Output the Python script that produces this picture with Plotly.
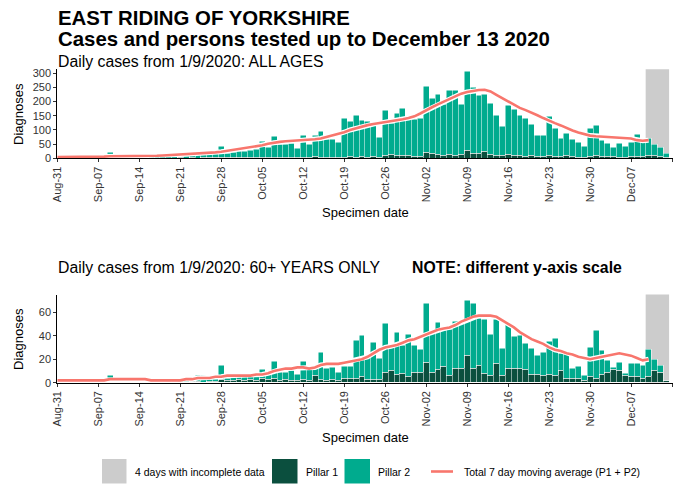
import datetime as dt
import plotly.graph_objects as go

# ---------------- data ----------------
start = dt.date(2020, 8, 31)
dates = [start + dt.timedelta(days=i) for i in range(105)]  # Aug 31 .. Dec 13
incomplete_dates = ["2020-12-10", "2020-12-13"]

all_total = [
    0,
    3, 4, 2, 5, 4, 3, 4,
    6, 20, 5, 7, 6, 8, 7,
    8, 6, 9, 8, 10, 11, 12,
    13, 12, 15, 16, 17, 19,
    43, 17, 20, 23, 26, 28, 31,
    61, 40, 76, 48, 50, 52, 35,
    80, 50, 80, 94, 66, 68, 58,
    141, 132, 150, 135, 130, 118, 73,
    171, 124, 159, 176, 137, 139, 142,
    253, 212, 226, 191, 241, 241, 191,
    306, 250, 224, 226, 194, 150, 112,
    188, 174, 153, 141, 120, 82, 82,
    147, 106, 71, 88, 68, 56, 41,
    106, 115, 65, 53, 38, 53, 41,
    55, 85, 65, 71, 51, 38, 18,
]
all_p1 = [
    0,
    0, 0, 0, 1, 0, 0, 0,
    1, 1, 0, 1, 0, 1, 1,
    1, 0, 1, 1, 1, 1, 2,
    1, 2, 1, 2, 2, 2,
    3, 2, 3, 2, 3, 3, 3,
    4, 3, 4, 3, 3, 4, 3,
    5, 4, 6, 5, 4, 5, 4,
    5, 6, 5, 6, 5, 6, 4,
    12, 14, 12, 10, 9, 8, 7,
    20, 18, 14, 12, 13, 11, 15,
    28, 18, 16, 26, 14, 12, 10,
    14, 12, 10, 8, 9, 7, 6,
    12, 8, 7, 9, 6, 5, 4,
    8, 9, 7, 6, 8, 5, 4,
    6, 8, 7, 12, 10, 8, 3,
]
all_avg = [
    4, 4, 4, 5, 5, 5, 5, 6,
    6, 7, 7, 8, 8, 8, 9,
    9, 9, 9, 10, 11, 12, 13,
    14, 15, 16, 17, 19, 21, 23,
    26, 29, 32, 35, 38, 42, 46,
    51, 55, 58, 60, 61, 62, 63,
    65, 67, 70, 75, 80, 85, 92,
    100, 106, 112, 117, 121, 124, 127,
    130, 134, 138, 142, 148, 158, 170,
    180, 190, 200, 210, 219, 228, 234,
    238, 241, 242, 236, 224, 212, 200,
    188, 178, 170, 162, 152, 142, 132,
    124, 116, 106, 98, 91, 85, 80,
    78, 77, 76, 75, 74, 73, 70,
    64, 62, 64,
]

old_total = [
    0,
    1, 1, 0, 2, 1, 1, 1,
    2, 6, 2, 3, 2, 3, 2,
    2, 1, 2, 1, 2, 1, 2,
    2, 3, 6, 6, 3, 4,
    15, 4, 5, 5, 6, 5, 6,
    11, 8, 18, 9, 9, 10, 7,
    18, 11, 12, 26, 12, 13, 9,
    14, 14, 36, 40, 22, 34, 21,
    50, 31, 43, 32, 41, 32, 28,
    67, 43, 51, 44, 45, 52, 50,
    70, 67, 55, 54, 41, 54, 29,
    50, 39, 40, 33, 29, 23, 26,
    35, 38, 25, 25, 12, 14, 6,
    30, 44, 27, 19, 13, 17, 8,
    16, 16, 15, 28, 20, 15, 2,
]
old_p1 = [
    0,
    0, 0, 0, 0, 0, 0, 0,
    0, 0, 0, 0, 0, 1, 0,
    0, 0, 0, 0, 0, 0, 0,
    0, 1, 1, 0, 1, 1,
    3, 2, 2, 3, 2, 3, 2,
    4, 3, 4, 2, 3, 2, 2,
    3, 2, 6, 3, 2, 3, 2,
    4, 4, 4, 5, 3, 3, 3,
    9, 10, 7, 8, 5, 9, 9,
    17, 9, 11, 14, 6, 12, 12,
    23, 12, 15, 8, 6, 16, 6,
    12, 12, 12, 11, 7, 7, 6,
    7, 6, 10, 4, 4, 4, 2,
    5, 4, 7, 9, 11, 10, 6,
    5, 5, 4, 5, 10, 9, 2,
]
old_avg = [
    2, 2, 2, 2, 2, 2, 2, 2,
    2, 3, 3, 3, 3, 3, 3,
    3, 2, 2, 2, 2, 2, 2,
    3, 3, 4, 4, 4, 5, 5,
    6, 6, 6, 6, 6, 7, 7,
    8, 10, 11, 12, 12, 13, 13,
    12, 13, 15, 16, 16, 16, 17,
    18, 19, 20, 22, 25, 28, 30,
    31, 32, 34, 36, 37, 39, 41,
    43, 45, 46, 47, 49, 52, 54,
    56, 57, 57, 57, 56, 53, 50,
    47, 43, 40, 37, 35, 33, 30,
    28, 27, 25, 24, 22, 21, 20,
    21, 22, 23, 24, 25, 24, 23,
    21, 19, 20,
]

all_p2 = [t - p for t, p in zip(all_total, all_p1)]
old_p2 = [t - p for t, p in zip(old_total, old_p1)]

# ---------------- styling ----------------
W, H = 676, 485
FONT = "Liberation Sans"
C_P1 = "#0b4f3e"
C_P2 = "#00ab8e"
C_AVG = "#f8766d"
C_GREY = "#cccccc"


def px(x):
    return x / W


def py(y):
    return 1 - y / H


fig = go.Figure()


def add_panel(total_p1, total_p2, avg, xa, ya):
    fig.add_trace(go.Bar(x=dates, y=total_p1, marker=dict(color=C_P1, line=dict(color="white", width=0.5)),
                         xaxis=xa, yaxis=ya, showlegend=False, name="Pillar 1"))
    fig.add_trace(go.Bar(x=dates, y=total_p2, marker=dict(color=C_P2, line=dict(color="white", width=0.5)),
                         xaxis=xa, yaxis=ya, showlegend=False, name="Pillar 2"))
    d = dates[:len(avg)]
    fig.add_trace(go.Scatter(x=d, y=avg, mode="lines", line=dict(color="white", width=5),
                             xaxis=xa, yaxis=ya, showlegend=False, hoverinfo="skip"))
    fig.add_trace(go.Scatter(x=d, y=avg, mode="lines", line=dict(color=C_AVG, width=2.6),
                             xaxis=xa, yaxis=ya, showlegend=False, name="7 day average"))


add_panel(all_p1, all_p2, all_avg, "x", "y")
add_panel(old_p1, old_p2, old_avg, "x2", "y2")

x0 = dt.datetime.fromisoformat(incomplete_dates[0]) - dt.timedelta(hours=12)
x1 = dt.datetime.fromisoformat(incomplete_dates[1]) + dt.timedelta(hours=12)
shapes = []
for xr, yr in (("x", "y domain"), ("x2", "y2 domain")):
    shapes.append(dict(type="rect", xref=xr, yref=yr, x0=x0, x1=x1, y0=0, y1=1,
                       fillcolor=C_GREY, line=dict(width=0), layer="below"))

xaxis_common = dict(
    type="date", range=["2020-08-31", "2020-12-14 02:00"], tick0="2020-08-31",
    dtick=7 * 86400000, tickformat="%b-%d", tickangle=-90, automargin=False,
    showline=True, linecolor="black", linewidth=1, ticks="outside", ticklen=3,
    tickcolor="#333", showgrid=False, zeroline=False,
    tickfont=dict(family=FONT, size=11, color="#333"),
)
yaxis_common = dict(
    showline=True, linecolor="black", linewidth=1, ticks="outside", ticklen=3,
    tickcolor="#333", showgrid=False, zeroline=False, automargin=False,
    tickfont=dict(family=FONT, size=11, color="#333"),
)

fig.update_layout(
    width=W, height=H, margin=dict(l=0, r=0, t=0, b=0, pad=0, autoexpand=False),
    paper_bgcolor="white", plot_bgcolor="white",
    barmode="stack", bargap=0,
    xaxis=dict(domain=[px(57.3), px(672.5)], anchor="y", **xaxis_common),
    yaxis=dict(domain=[py(158.3), py(69.3)], anchor="x", range=[0, 314],
               tickvals=[0, 50, 100, 150, 200, 250, 300], **yaxis_common),
    xaxis2=dict(domain=[px(57.3), px(672.5)], anchor="y2", **xaxis_common),
    yaxis2=dict(domain=[py(382.7), py(294.5)], anchor="x2", range=[0, 75],
                tickvals=[0, 20, 40, 60], **yaxis_common),
    showlegend=False,
)

ann = []


def text(x, y, s, size, bold=False, anchor="left", angle=0, color="black"):
    ann.append(dict(x=px(x), y=py(y), xref="paper", yref="paper", text=(f"<b>{s}</b>" if bold else s),
                    showarrow=False, xanchor=anchor, yanchor="middle", textangle=angle,
                    font=dict(family=FONT, size=size, color=color)))


text(56, 18, "EAST RIDING OF YORKSHIRE", 20.4, bold=True)
text(56, 39, "Cases and persons tested up to December 13 2020", 20.4, bold=True)
text(56, 62, "Daily cases from 1/9/2020: ALL AGES", 15.8)
text(56, 267, "Daily cases from 1/9/2020: 60+ YEARS ONLY", 15.8)
text(410, 267, "NOTE: different y-axis scale", 15.8, bold=True)
text(18, 114, "Diagnoses", 13, anchor="center", angle=-90)
text(18, 339, "Diagnoses", 13, anchor="center", angle=-90)
text(365, 212, "Specimen date", 13, anchor="center")
text(365, 437, "Specimen date", 13, anchor="center")

# legend
LY0, LY1, LYC = 459, 483.5, 471.5
legend_shapes = [
    dict(type="rect", xref="paper", yref="paper", x0=px(102), x1=px(126.5), y0=py(LY1), y1=py(LY0),
         fillcolor=C_GREY, line=dict(width=0)),
    dict(type="rect", xref="paper", yref="paper", x0=px(272), x1=px(297.5), y0=py(LY1), y1=py(LY0),
         fillcolor=C_P1, line=dict(width=0)),
    dict(type="rect", xref="paper", yref="paper", x0=px(344.5), x1=px(370), y0=py(LY1), y1=py(LY0),
         fillcolor=C_P2, line=dict(width=0)),
    dict(type="line", xref="paper", yref="paper", x0=px(431), x1=px(453), y0=py(LYC), y1=py(LYC),
         line=dict(color=C_AVG, width=2.6)),
]
fig.update_layout(shapes=shapes + legend_shapes)
text(133, LYC, "4 days with incomplete data", 10.5)
text(304, LYC, "Pillar 1", 10.5)
text(376, LYC, "Pillar 2", 10.5)
text(462, LYC, "Total 7 day moving average (P1 + P2)", 10.5)

fig.update_layout(annotations=ann)
fig.write_html(
    "out.html",
    config={"displayModeBar": False},
    post_script="document.body.style.margin='0';document.body.style.overflow='hidden';",
)
